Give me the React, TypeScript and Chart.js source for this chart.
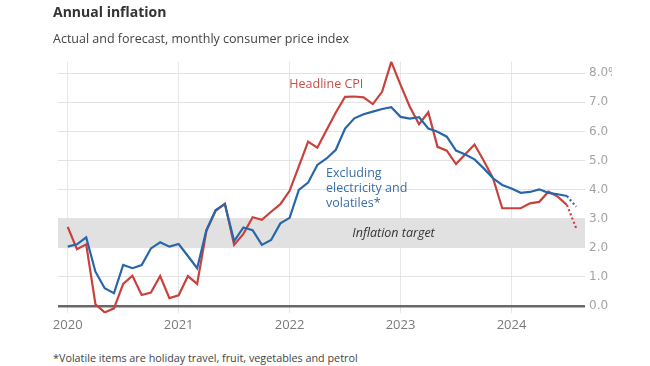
import React, { useEffect, useRef } from "react";
import { Chart, registerables } from "chart.js";

Chart.register(...registerables);

// Month index 0 = Jan 2020
const yearLabels = ["2020", "2021", "2022", "2023", "2024"];
const yearTickMonths = [0, 12, 24, 36, 48];
const yTickValues = [0, 1, 2, 3, 4, 5, 6, 7, 8];

// Headline CPI, Jan 2020 – Jul 2024 (actual)
const headlineActual = [
  2.72, 1.95, 2.12, 0.06, -0.22, -0.08, 0.76, 1.04, 0.38, 0.46, 1.03, 0.27,
  0.37, 1.03, 0.76, 2.58, 3.27, 3.52, 2.1, 2.48, 3.05, 2.96, 3.24, 3.5,
  3.96, 4.8, 5.65, 5.44, 6.05, 6.65, 7.19, 7.2, 7.17, 6.94, 7.36, 8.39,
  7.6, 6.85, 6.25, 6.66, 5.47, 5.34, 4.88, 5.22, 5.55, 4.99, 4.39, 3.36,
  3.36, 3.36, 3.53, 3.58, 3.93, 3.76, 3.47,
];
// Forecast, Aug 2024
const headlineForecast = [2.67];

// Excluding electricity and volatiles, Jan 2020 – Jul 2024 (actual)
const coreActual = [
  2.04, 2.12, 2.36, 1.18, 0.61, 0.44, 1.41, 1.3, 1.41, 1.98, 2.19, 2.04,
  2.13, 1.72, 1.3, 2.61, 3.3, 3.5, 2.23, 2.7, 2.61, 2.1, 2.27, 2.84,
  3.03, 3.99, 4.24, 4.85, 5.07, 5.37, 6.1, 6.45, 6.59, 6.68, 6.77, 6.83,
  6.5, 6.44, 6.49, 6.1, 5.99, 5.82, 5.34, 5.21, 5.04, 4.73, 4.39, 4.16,
  4.04, 3.89, 3.92, 4.01, 3.89, 3.84, 3.78,
];
const coreForecast = [3.41];

const targetBand = [2, 3];

const RED = "#c9413d";
const BLUE = "#2866ab";
const FONT = "'Open Sans', 'DejaVu Sans', sans-serif";

function toPoints(actual: number[], forecast: number[]) {
  const all = actual.concat(forecast);
  return all.map((v, i) => ({ x: i, y: v }));
}

const overlayPlugin = {
  id: "overlay",
  beforeDatasetsDraw(chart: any) {
    const { ctx, chartArea, scales } = chart;
    const y = scales.y;
    const x = scales.x;
    const top = y.getPixelForValue(targetBand[1]);
    const bottom = y.getPixelForValue(targetBand[0]);
    ctx.save();
    ctx.fillStyle = "#e1e1e1";
    ctx.fillRect(chartArea.left, top, chartArea.right - chartArea.left, bottom - top);
    ctx.fillStyle = "#333333";
    ctx.font = `italic 12.5px ${FONT}`;
    ctx.textAlign = "center";
    ctx.textBaseline = "middle";
    ctx.fillText("Inflation target", x.getPixelForValue(35.24), (top + bottom) / 2);
    ctx.restore();
  },
  afterDatasetsDraw(chart: any) {
    const { ctx, scales } = chart;
    const x = scales.x;
    const y = scales.y;
    ctx.save();
    ctx.font = `12.5px ${FONT}`;
    ctx.textAlign = "left";
    ctx.textBaseline = "middle";
    ctx.fillStyle = "#c8504b";
    ctx.fillText("Headline CPI", x.getPixelForValue(23.97), y.getPixelForValue(7.63));
    ctx.fillStyle = "#3a6ea8";
    const lx = x.getPixelForValue(27.94);
    const ly = y.getPixelForValue(4.54);
    ["Excluding", "electricity and", "volatiles*"].forEach((t, i) => {
      ctx.fillText(t, lx, ly + i * 14.6);
    });
    ctx.restore();
  },
};

export default function App() {
  const canvasRef = useRef<HTMLCanvasElement | null>(null);

  useEffect(() => {
    document.body.style.margin = "0";
    const canvas = canvasRef.current;
    if (!canvas) return;
    const lastActual = headlineActual.length - 1;
    const dashSeg = {
      borderDash: (c: any) => (c.p1DataIndex > lastActual ? [2, 2.5] : undefined),
    };
    const chart = new Chart(canvas, {
      type: "line",
      data: {
        datasets: [
          {
            label: "Excluding electricity and volatiles",
            data: toPoints(coreActual, coreForecast),
            borderColor: BLUE,
            borderWidth: 2.2,
            pointRadius: 0,
            tension: 0,
            segment: dashSeg,
          },
          {
            label: "Headline CPI",
            data: toPoints(headlineActual, headlineForecast),
            borderColor: RED,
            borderWidth: 2.2,
            pointRadius: 0,
            tension: 0,
            segment: dashSeg,
          },
        ],
      },
      options: {
        animation: false,
        responsive: false,
        maintainAspectRatio: false,
        layout: { padding: { left: 58, top: 61.6, right: 0, bottom: 0 } },
        plugins: {
          legend: { display: false },
          tooltip: { enabled: false },
          title: { display: false },
        },
        scales: {
          x: {
            type: "linear",
            min: -1.05,
            max: 55.95,
            afterBuildTicks: (scale: any) => {
              scale.ticks = yearTickMonths.map((v) => ({ value: v }));
            },
            afterFit: (scale: any) => {
              scale.height = 26.7;
            },
            ticks: {
              autoSkip: false,
              maxRotation: 0,
              padding: 4,
              color: "#7a7a7a",
              font: { family: FONT, size: 13 },
              callback: (v: any) => {
                const idx = yearTickMonths.indexOf(Number(v));
                return idx >= 0 ? yearLabels[idx] : "";
              },
            },
            grid: { color: "#e6e6e6", lineWidth: 1, drawTicks: false },
            border: { display: false },
          },
          y: {
            type: "linear",
            position: "right",
            min: -0.25,
            max: 8.4,
            afterBuildTicks: (scale: any) => {
              scale.ticks = yTickValues.map((v) => ({ value: v }));
            },
            afterFit: (scale: any) => {
              scale.width = 27;
            },
            ticks: {
              padding: 4,
              color: "#a3a3a3",
              font: { family: "'DejaVu Sans', sans-serif", size: 12 },
              callback: (v: any) => {
                const n = Number(v);
                return n === 8 ? "8.0%" : n.toFixed(1);
              },
            },
            grid: {
              drawTicks: false,
              color: (c: any) => (c.tick && c.tick.value === 0 ? "#686868" : "#e3e3e3"),
              lineWidth: (c: any) => (c.tick && c.tick.value === 0 ? 2.5 : 1),
            },
            border: { display: false },
          },
        },
      },
      plugins: [overlayPlugin],
    } as any);
    return () => chart.destroy();
  }, []);

  return (
    <div style={{ position: "relative", width: 650, height: 366, background: "#fff", overflow: "hidden" }}>
      <canvas ref={canvasRef} width={612} height={340} style={{ position: "absolute", left: 0, top: 0, width: 612, height: 340 }} />
      <div
        style={{
          position: "absolute",
          left: 53,
          top: 2,
          fontFamily: FONT,
          fontWeight: 700,
          fontSize: 14,
          lineHeight: "20px",
          color: "#333",
          whiteSpace: "nowrap",
        }}
      >
        Annual inflation
      </div>
      <div
        style={{
          position: "absolute",
          left: 53,
          top: 29,
          fontFamily: FONT,
          fontSize: 12.5,
          lineHeight: "20px",
          color: "#444",
          whiteSpace: "nowrap",
        }}
      >
        Actual and forecast, monthly consumer price index
      </div>
      <div
        style={{
          position: "absolute",
          left: 53,
          top: 349,
          fontFamily: FONT,
          fontSize: 10.8,
          lineHeight: "18px",
          color: "#444",
          whiteSpace: "nowrap",
        }}
      >
        *Volatile items are holiday travel, fruit, vegetables and petrol
      </div>
    </div>
  );
}
